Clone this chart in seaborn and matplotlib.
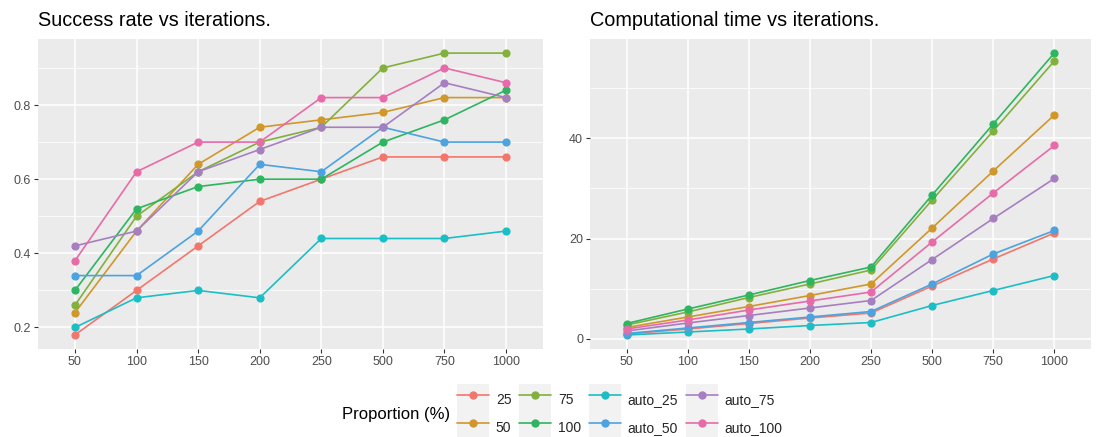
import matplotlib
matplotlib.use("Agg")
import matplotlib.pyplot as plt
import seaborn as sns
import pandas as pd
import numpy as np
from matplotlib.lines import Line2D
from matplotlib.patches import Rectangle
from matplotlib.legend_handler import HandlerLine2D
from matplotlib.ticker import MultipleLocator

iterations = ["50", "100", "150", "200", "250", "500", "750", "1000"]
proportions = ["25", "50", "75", "100", "auto_25", "auto_50", "auto_75", "auto_100"]

success_25 = [0.18, 0.30, 0.42, 0.54, 0.60, 0.66, 0.66, 0.66]
success_50 = [0.24, 0.46, 0.64, 0.74, 0.76, 0.78, 0.82, 0.82]
success_75 = [0.26, 0.50, 0.62, 0.70, 0.74, 0.90, 0.94, 0.94]
success_100 = [0.30, 0.52, 0.58, 0.60, 0.60, 0.70, 0.76, 0.84]
success_auto_25 = [0.20, 0.28, 0.30, 0.28, 0.44, 0.44, 0.44, 0.46]
success_auto_50 = [0.34, 0.34, 0.46, 0.64, 0.62, 0.74, 0.70, 0.70]
success_auto_75 = [0.42, 0.46, 0.62, 0.68, 0.74, 0.74, 0.86, 0.82]
success_auto_100 = [0.38, 0.62, 0.70, 0.70, 0.82, 0.82, 0.90, 0.86]

time_25 = [0.9, 1.9, 3.0, 4.1, 5.1, 10.5, 15.9, 21.1]
time_50 = [2.2, 4.3, 6.4, 8.6, 10.9, 22.1, 33.5, 44.7]
time_75 = [2.7, 5.3, 8.2, 10.9, 13.7, 27.7, 41.5, 55.5]
time_100 = [3.0, 5.9, 8.7, 11.6, 14.3, 28.7, 42.9, 57.1]
time_auto_25 = [0.7, 1.3, 1.9, 2.6, 3.2, 6.6, 9.6, 12.6]
time_auto_50 = [1.0, 2.1, 3.2, 4.3, 5.4, 10.9, 16.9, 21.6]
time_auto_75 = [1.5, 3.1, 4.6, 6.1, 7.6, 15.8, 24.0, 32.0]
time_auto_100 = [1.9, 3.7, 5.7, 7.5, 9.3, 19.3, 29.1, 38.6]

colors = ["#F3766D", "#D0972A", "#82B03C", "#2DB55F", "#1CBEC5", "#4BA3E0", "#A67FC1", "#E86BA9"]
palette = dict(zip(proportions, colors))

success = [success_25, success_50, success_75, success_100,
           success_auto_25, success_auto_50, success_auto_75, success_auto_100]
times = [time_25, time_50, time_75, time_100,
         time_auto_25, time_auto_50, time_auto_75, time_auto_100]


def make_df(series):
    rows = []
    for p, vals in zip(proportions, series):
        for it, v in zip(iterations, vals):
            rows.append({"iter": it, "val": v, "prop": p})
    return pd.DataFrame(rows)


df_s = make_df(success)
df_t = make_df(times)

sns.set_theme(style="darkgrid")
plt.rcParams["font.family"] = ["Liberation Sans", "DejaVu Sans"]

fig = plt.figure(figsize=(11, 4.37), dpi=100)
ax1 = fig.add_axes([38 / 1100, (437 - 349) / 437, 505 / 1100, 310 / 437])
ax2 = fig.add_axes([590 / 1100, (437 - 349) / 437, 501 / 1100, 310 / 437])


def draw(ax, df, ylim, yticks, fmt, minor):
    sns.pointplot(data=df, x="iter", y="val", hue="prop", order=iterations,
                  hue_order=proportions, palette=palette, markers="o",
                  markersize=5, linewidth=1.2, errorbar=None, legend=False,
                  dodge=False, ax=ax)
    ax.set_facecolor("#EBEBEB")
    ax.set_xlim(-0.6, len(iterations) - 0.4)
    ax.set_ylim(*ylim)
    ax.set_yticks(yticks)
    ax.set_yticklabels([fmt(v) for v in yticks])
    ax.yaxis.set_minor_locator(MultipleLocator(minor))
    ax.grid(which="major", color="white", linewidth=1.1)
    ax.grid(which="minor", axis="y", color="white", linewidth=0.55)
    ax.set_axisbelow(True)
    for s in ax.spines.values():
        s.set_visible(False)
    ax.tick_params(axis="both", which="major", length=3, width=0.8, color="#333333",
                   labelcolor="#4D4D4D", labelsize=9, pad=2, bottom=True, left=True)
    ax.tick_params(axis="both", which="minor", length=0)
    ax.set_xlabel("")
    ax.set_ylabel("")


draw(ax1, df_s, (0.142, 0.978), [0.2, 0.4, 0.6, 0.8], lambda v: f"{v:.1f}", 0.1)
draw(ax2, df_t, (-2.1, 59.9), [0, 20, 40], lambda v: f"{v:d}", 10)

fig.text(38 / 1100, 1 - 21 / 437, "Success rate vs iterations.", fontsize=14.3,
         ha="left", va="center", color="black")
fig.text(590 / 1100, 1 - 21 / 437, "Computational time vs iterations.", fontsize=14.3,
         ha="left", va="center", color="black")


class KeyHandler(HandlerLine2D):
    def create_artists(self, legend, orig_handle, xdescent, ydescent, width,
                       height, fontsize, trans):
        arts = super().create_artists(legend, orig_handle, xdescent, ydescent,
                                      width, height, fontsize, trans)
        rect = Rectangle((-xdescent, -ydescent - 1.0), width, height + 2.0,
                         facecolor="#F2F2F2", edgecolor="none", transform=trans,
                         zorder=0)
        return [rect] + arts


handles = [Line2D([], [], color=palette[p], marker="o", markersize=5,
                  linewidth=1.2) for p in proportions]
leg = fig.legend(handles, proportions, ncol=4, loc="center left",
                 bbox_to_anchor=(457 / 1100, 1 - 414 / 437), frameon=False,
                 fontsize=10, handlelength=2.3, handleheight=2.8,
                 labelspacing=0.0, handletextpad=0.5, columnspacing=0.55,
                 borderpad=0, borderaxespad=0,
                 handler_map={Line2D: KeyHandler()})
fig.text(342 / 1100, 1 - 414 / 437, "Proportion (%)", fontsize=12,
         ha="left", va="center", color="black")

fig.savefig("out.png", dpi=100, facecolor="white")
